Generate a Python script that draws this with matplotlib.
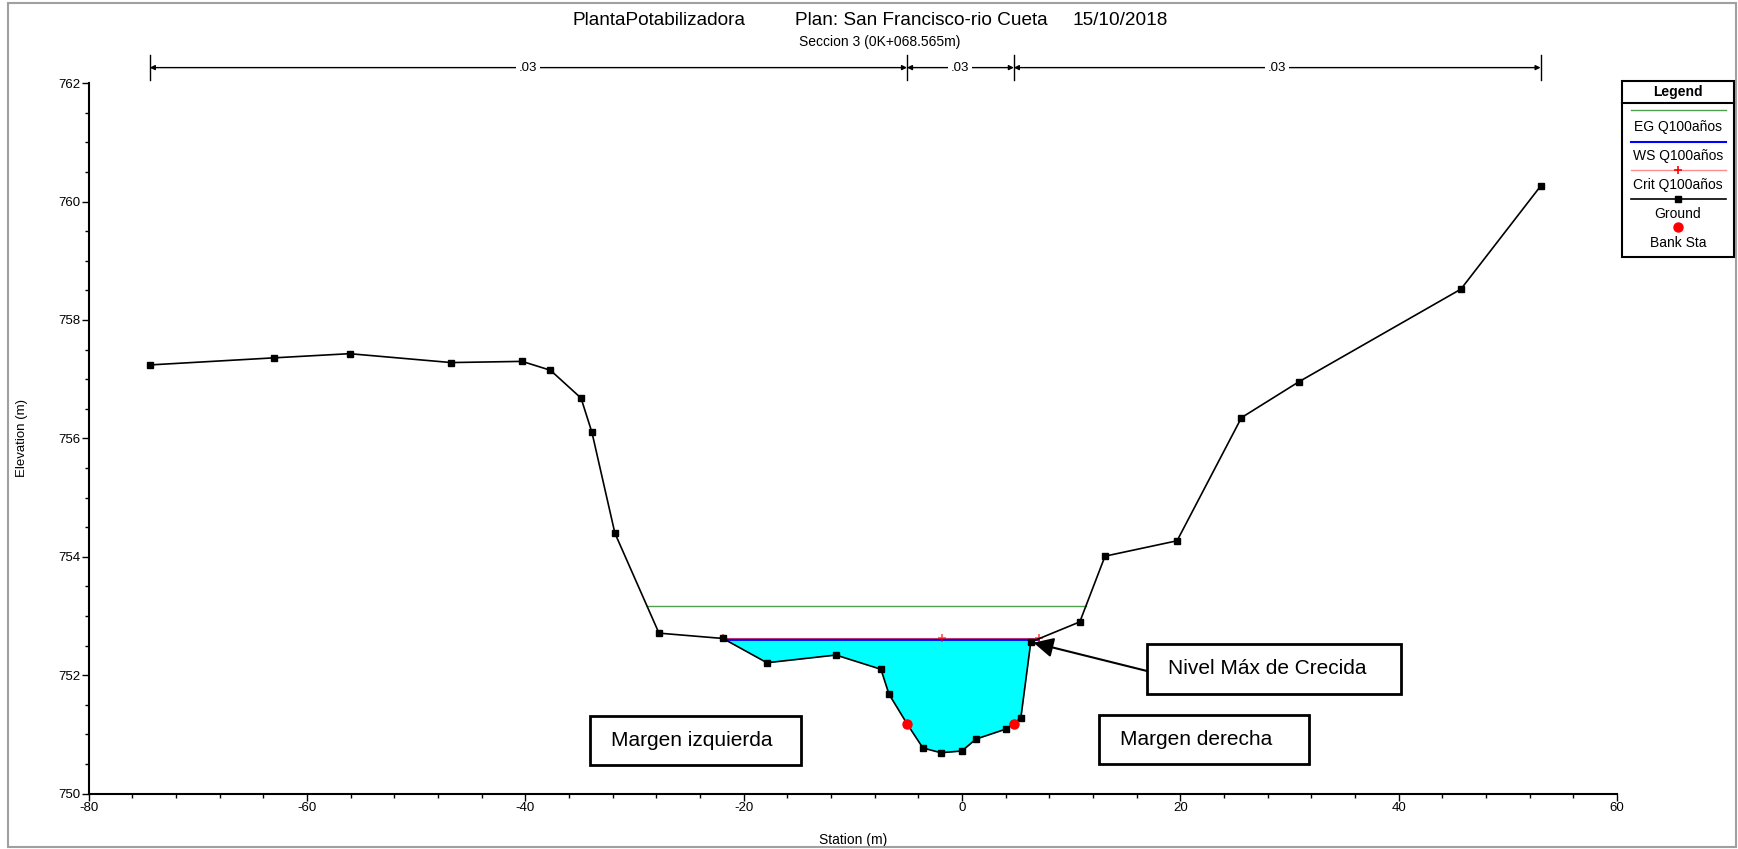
import numpy as np
import matplotlib
matplotlib.use('Agg')
import matplotlib.pyplot as plt
from matplotlib.patches import Rectangle
from matplotlib.ticker import MultipleLocator
from matplotlib.transforms import blended_transform_factory

plt.rcParams['font.family'] = ['Liberation Sans', 'DejaVu Sans']
plt.rcParams['axes.unicode_minus'] = False

# Cross section survey (station m, elevation m)
ground_sta = [-74.4, -63.0, -56.1, -46.8, -40.3, -37.7, -34.9, -33.9, -31.8, -27.76,
              -21.90, -17.87, -11.55, -7.43, -6.69, -5.04, -3.58, -1.93, -0.01, 1.27,
              4.02, 4.75, 5.39, 6.30, 10.79, 13.1, 19.7, 25.6, 30.9, 45.7, 53.0]
ground_elev = [757.24, 757.36, 757.43, 757.28, 757.30, 757.15, 756.68, 756.10, 754.40, 752.71,
               752.62, 752.21, 752.34, 752.10, 751.68, 751.18, 750.77, 750.69, 750.72, 750.92,
               751.09, 751.18, 751.28, 752.56, 752.90, 754.01, 754.27, 756.35, 756.96, 758.52, 760.26]
bank_sta = [-5.04, 4.75]
mann_n = ['.03', '.03', '.03']

# Q100 results
ws_elev = 752.61
eg_elev = 753.17
crit_elev = 752.62
crit_sta = [-21.87, -1.87, 7.08]


def wet_limits(level):
    x = np.array(ground_sta)
    d = np.array(ground_elev) - level
    cross = []
    for i in range(len(x) - 1):
        if d[i] * d[i + 1] < 0:
            cross.append(x[i] + d[i] / (d[i] - d[i + 1]) * (x[i + 1] - x[i]))
    cross = np.array(cross)
    return cross[cross < 0].max(), cross[cross > 0].min()


W, H = 1738, 849
fig = plt.figure(figsize=(W / 100, H / 100), dpi=100)
ax = fig.add_axes([88.7 / W, 1 - 793.6 / H, (1617 - 88.7) / W, (793.6 - 83.1) / H])

# water area
wl, wr = wet_limits(ws_elev)
gs = np.array(ground_sta)
ge = np.array(ground_elev)
inside = (gs > wl) & (gs < wr)
wx = np.concatenate([[wl], gs[inside], [wr]])
wz = np.concatenate([[ws_elev], ge[inside], [ws_elev]])
ax.fill_between(wx, wz, ws_elev, color='#00ffff', lw=0, zorder=1)

el, er = wet_limits(eg_elev)
ax.plot([el, er], [eg_elev, eg_elev], color='#50a050', lw=1, zorder=2)
ax.plot([wl, wr], [ws_elev, ws_elev], color='#0000ff', lw=2, zorder=2)
ax.plot(crit_sta, [crit_elev] * len(crit_sta), color='#ff4040', lw=0.8, alpha=0.7,
        marker='+', ms=6, mew=1.2, mec='red', zorder=3)
ax.plot(ground_sta, ground_elev, color='black', lw=1.2, marker='s', ms=4.5, zorder=4)
ax.plot(bank_sta, np.interp(bank_sta, ground_sta, ground_elev), 'o', color='red', ms=6.5,
        mec='red', zorder=5)

ax.set_xlim(-80, 60)
ax.set_ylim(750, 762)
ax.xaxis.set_major_locator(MultipleLocator(20))
ax.xaxis.set_minor_locator(MultipleLocator(4))
ax.yaxis.set_major_locator(MultipleLocator(2))
ax.yaxis.set_minor_locator(MultipleLocator(0.5))
ax.tick_params(which='major', length=5, width=1, labelsize=9.5, pad=1)
ax.tick_params(which='minor', length=3, width=1)
for s in ['top', 'right']:
    ax.spines[s].set_visible(False)
for s in ['left', 'bottom']:
    ax.spines[s].set_linewidth(1.5)
ax.set_xlabel('Station (m)', fontsize=10)
ax.set_ylabel('Elevation (m)', fontsize=9.5)
ax.xaxis.set_label_coords(0.5, -0.056)
ax.yaxis.set_label_coords(-0.0397, 0.5)

# Manning n bar above plot
trans = blended_transform_factory(ax.transData, ax.transAxes)
edges = [ground_sta[0], bank_sta[0], bank_sta[1], ground_sta[-1]]
yb = 1.0218
for e in edges:
    ax.plot([e, e], [1.0042, 1.0394], color='black', lw=1, transform=trans, clip_on=False)
for i, n in enumerate(mann_n):
    ax.annotate('', xy=(edges[i + 1], yb), xytext=(edges[i], yb), xycoords=trans, textcoords=trans,
                arrowprops=dict(arrowstyle='<|-|>', color='black', lw=1, mutation_scale=7,
                                shrinkA=0, shrinkB=0), annotation_clip=False)
    ax.text((edges[i] + edges[i + 1]) / 2, yb, n, transform=trans, ha='center', va='center',
            fontsize=9.5, zorder=6, clip_on=False,
            bbox=dict(fc='white', ec='none', pad=2))

# overlay in figure pixels for titles, legend and notes
ov = fig.add_axes([0, 0, 1, 1], facecolor='none')
ov.set_xlim(0, W)
ov.set_ylim(H, 0)
ov.axis('off')
ov.add_patch(Rectangle((8, 3), 1728, 844, fill=False, ec='#a0a0a0', lw=1.5))

ov.text(573, 20, 'PlantaPotabilizadora', fontsize=13.7, va='center')
ov.text(795, 20, 'Plan: San Francisco-rio Cueta', fontsize=13.7, va='center')
ov.text(1072, 20, '15/10/2018', fontsize=13.7, va='center')
ov.text(880, 42, 'Seccion 3 (0K+068.565m)', fontsize=10, ha='center', va='center')

# legend
lx0, lx1 = 1622, 1734
ov.add_patch(Rectangle((lx0, 81), lx1 - lx0, 176, fill=False, ec='black', lw=1.5))
ov.plot([lx0, lx1], [103, 103], color='black', lw=1.5)
ov.text((lx0 + lx1) / 2, 92, 'Legend', fontsize=10, fontweight='bold', ha='center', va='center')
sx = [1631, 1726]
mid = (lx0 + lx1) / 2
ov.plot(sx, [110, 110], color='#50a050', lw=1)
ov.plot(sx, [142, 142], color='#0000ff', lw=1.5)
ov.plot(sx, [170, 170], color='#ff8c8c', lw=1)
ov.plot([mid], [170], '+', color='red', ms=6, mew=1.2)
ov.plot(sx, [199, 199], color='black', lw=1.2)
ov.plot([mid], [199], 's', color='black', ms=4.5)
ov.plot([mid], [227], 'o', color='red', ms=6.5)
for yy, lab in zip([127, 156, 185, 214, 243],
                   ['EG Q100años', 'WS Q100años', 'Crit Q100años', 'Ground', 'Bank Sta']):
    ov.text(mid, yy, lab, fontsize=10, ha='center', va='center')

# notes
for (x0, y0, x1, y1), lab in [((590, 716, 801, 765), 'Margen izquierda'),
                              ((1099, 715, 1309, 764), 'Margen derecha'),
                              ((1147, 644, 1401, 694), 'Nivel Máx de Crecida')]:
    ov.add_patch(Rectangle((x0, y0), x1 - x0, y1 - y0, fc='white', ec='black', lw=2))
    ov.text(x0 + 21, (y0 + y1) / 2, lab, fontsize=15, va='center')

ax.annotate('', xy=(ground_sta[23], ground_elev[23]), xycoords='data',
            xytext=(1147, 671), textcoords=ov.transData,
            arrowprops=dict(arrowstyle='-|>,head_length=1.0,head_width=0.5', color='black',
                            lw=1.5, mutation_scale=12, shrinkA=0, shrinkB=2),
            annotation_clip=False)

fig.savefig('out.png', dpi=100)
